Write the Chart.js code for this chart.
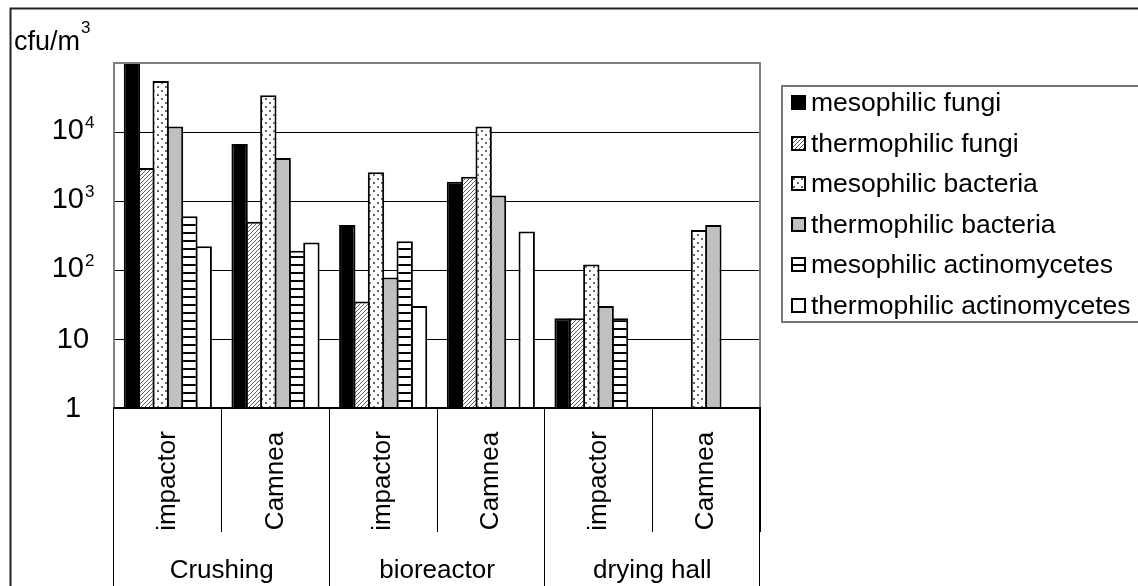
<!DOCTYPE html>
<html>
<head>
<meta charset="utf-8">
<title>Airborne microorganisms by site and sampler</title>
<script src="https://cdn.jsdelivr.net/npm/chart.js@4.4.1/dist/chart.umd.min.js"></script>
<style>
  html, body { margin: 0; padding: 0; background: #fff; }
  #wrap { width: 1138px; height: 586px; position: relative; }
  canvas { display: block; }
</style>
</head>
<body>
<div id="wrap"><canvas id="chart" width="1138" height="586"></canvas></div>
<script>
// Sampling sites (outer level) and samplers (inner level)
const groupLabels = ['Crushing', 'bioreactor', 'drying hall'];
const subCategories = ['impactor', 'Camnea', 'impactor', 'Camnea', 'impactor', 'Camnea'];

// Series names
const seriesNames = [
  'mesophilic fungi',
  'thermophilic fungi',
  'mesophilic bacteria',
  'thermophilic bacteria',
  'mesophilic actinomycetes',
  'thermophilic actinomycetes'
];

// Concentrations, cfu/m3 (null = not detected / not measured)
const mesophilicFungi           = [100000, 6700, 450, 1900, 20, null];
const thermophilicFungi         = [3000, 500, 35, 2250, 20, null];
const mesophilicBacteria        = [55000, 34000, 2600, 12000, 120, 380];
const thermophilicBacteria      = [12000, 4200, 78, 1200, 30, 450];
const mesophilicActinomycetes   = [600, 190, 260, null, 20, null];
const thermophilicActinomycetes = [220, 250, 30, 360, null, null];

// Log axis: decade grid values and their labels (base + superscript)
const yGridValues = [1, 10, 100, 1000, 10000, 100000];
const yTickValues = [1, 10, 100, 1000, 10000];
const yTickBases = ['1', '10', '10', '10', '10'];
const yTickExponents = ['', '', '2', '3', '4'];
const unitBase = 'cfu/m';
const unitExponent = '3';

const FONT = "'Liberation Sans', Arial, Helvetica, sans-serif";

const canvas = document.getElementById('chart');
const mainCtx = canvas.getContext('2d');

// Monochrome fill patterns
function tile(w, h, paint) {
  const c = document.createElement('canvas');
  c.width = w; c.height = h;
  const g = c.getContext('2d');
  g.fillStyle = '#fff';
  g.fillRect(0, 0, w, h);
  paint(g);
  return mainCtx.createPattern(c, 'repeat');
}

const hatchPattern = tile(4, 4, g => {
  g.strokeStyle = '#5a5a5a';
  g.lineWidth = 1;
  g.beginPath();
  g.moveTo(0, 4); g.lineTo(4, 0);
  g.moveTo(-1, 1); g.lineTo(1, -1);
  g.moveTo(3, 5); g.lineTo(5, 3);
  g.stroke();
});

const dotPattern = tile(8, 8, g => {
  g.fillStyle = '#666';
  g.fillRect(1, 2, 2, 2);
  g.fillRect(5, 6, 2, 2);
});

const stripePattern = tile(8, 8, g => {
  g.fillStyle = '#000';
  g.fillRect(0, 0, 8, 2);
});

const seriesFills = ['#000000', hatchPattern, dotPattern, '#c0c0c0', stripePattern, '#ffffff'];
const seriesData = [
  mesophilicFungi, thermophilicFungi, mesophilicBacteria,
  thermophilicBacteria, mesophilicActinomycetes, thermophilicActinomycetes
];

const datasets = seriesNames.map((name, i) => ({
  label: name,
  data: seriesData[i],
  backgroundColor: seriesFills[i],
  borderColor: '#000',
  borderWidth: 2,
  borderSkipped: 'start',
  categoryPercentage: 0.8,
  barPercentage: 1.14
}));

function alignPx(x, w) {
  return Math.round(x - w / 2) + w / 2;
}

const decorations = {
  id: 'decorations',
  beforeDraw(chart) {
    const ctx = chart.ctx;
    ctx.save();
    ctx.fillStyle = '#fff';
    ctx.fillRect(0, 0, chart.width, chart.height);
    ctx.restore();
  },
  afterDatasetsDraw(chart) {
    const ctx = chart.ctx;
    const a = chart.chartArea;
    ctx.save();
    // plot area frame
    ctx.strokeStyle = '#808080';
    ctx.lineWidth = 2;
    ctx.beginPath();
    ctx.moveTo(a.left, a.bottom);
    ctx.lineTo(a.left, a.top);
    ctx.lineTo(a.right, a.top);
    ctx.lineTo(a.right, a.bottom);
    ctx.stroke();
    // category axis line
    ctx.strokeStyle = '#000';
    ctx.beginPath();
    ctx.moveTo(a.left - 1, a.bottom);
    ctx.lineTo(a.right + 1, a.bottom);
    ctx.stroke();
    ctx.restore();
  },
  afterDraw(chart) {
    const ctx = chart.ctx;
    const a = chart.chartArea;
    const xs = chart.scales.x;
    const ys = chart.scales.y;
    const half = (xs.getPixelForValue(1) - xs.getPixelForValue(0)) / 2;
    ctx.save();
    ctx.fillStyle = '#000';

    // outer separators between sites
    ctx.strokeStyle = '#000';
    ctx.lineWidth = 1;
    for (let g = 0; g <= groupLabels.length; g++) {
      const idx = g * 2;
      const x = alignPx(xs.getPixelForValue(idx) - half, 1);
      ctx.beginPath();
      ctx.moveTo(x, a.bottom);
      ctx.lineTo(x, chart.height + 2);
      ctx.stroke();
    }

    // sampler labels (rotated)
    ctx.font = '26px ' + FONT;
    ctx.textAlign = 'center';
    ctx.textBaseline = 'middle';
    subCategories.forEach((lab, i) => {
      const x = xs.getPixelForValue(i);
      ctx.save();
      ctx.translate(x, 481);
      ctx.rotate(-Math.PI / 2);
      ctx.fillText(lab, 0, 0);
      ctx.restore();
    });

    // site labels
    ctx.textBaseline = 'alphabetic';
    groupLabels.forEach((lab, g) => {
      const x = (xs.getPixelForValue(2 * g) + xs.getPixelForValue(2 * g + 1)) / 2;
      ctx.fillText(lab, x, 578);
    });

    // value axis labels: 10 with superscript exponents
    ctx.textAlign = 'left';
    yTickValues.forEach((v, i) => {
      const y = ys.getPixelForValue(v);
      const base = yTickBases[i];
      const exp = yTickExponents[i];
      ctx.font = '29px ' + FONT;
      const wb = ctx.measureText(base).width;
      ctx.font = '17px ' + FONT;
      const we = exp ? ctx.measureText(exp).width + 1 : 0;
      const x0 = 73 - (wb + we) / 2;
      const baseline = y + (exp ? 7 : 9);
      ctx.font = '29px ' + FONT;
      ctx.fillText(base, x0, baseline);
      if (exp) {
        ctx.font = '17px ' + FONT;
        ctx.fillText(exp, x0 + wb + 1, baseline - 11);
      }
    });

    // unit label
    ctx.font = '27px ' + FONT;
    ctx.fillText(unitBase, 14, 50);
    const wu = ctx.measureText(unitBase).width;
    ctx.font = '17px ' + FONT;
    ctx.fillText(unitExponent, 14 + wu + 1, 33);

    // legend
    ctx.strokeStyle = '#777';
    ctx.lineWidth = 2;
    ctx.strokeRect(782, 86, 420, 236);
    ctx.font = '26.5px ' + FONT;
    chart.data.datasets.forEach((ds, i) => {
      const b = 111 + i * 40.5;
      const by = Math.round(b - 16);
      ctx.fillStyle = ds.backgroundColor;
      ctx.fillRect(791, by, 15, 15);
      ctx.strokeStyle = '#000';
      ctx.lineWidth = 2;
      ctx.strokeRect(792, by + 1, 13, 13);
      ctx.fillStyle = '#000';
      ctx.fillText(ds.label, 811, b);
    });

    // outer chart frame
    ctx.strokeStyle = '#222';
    ctx.lineWidth = 2;
    ctx.strokeRect(10.5, 8.5, 1300, 800);
    ctx.restore();
  }
};

new Chart(mainCtx, {
  type: 'bar',
  data: { labels: subCategories, datasets },
  options: {
    responsive: false,
    animation: false,
    devicePixelRatio: 1,
    layout: { padding: { left: 0, top: 63, right: 378, bottom: 0 } },
    plugins: {
      legend: { display: false },
      tooltip: { enabled: false },
      title: { display: false }
    },
    scales: {
      x: {
        type: 'category',
        offset: true,
        ticks: { display: false },
        border: { display: false },
        grid: {
          display: true,
          offset: true,
          drawOnChartArea: false,
          drawTicks: true,
          tickLength: 124,
          color: '#000',
          lineWidth: 1
        },
        afterFit(scale) { scale.height = 178; }
      },
      y: {
        type: 'logarithmic',
        min: 1,
        max: 100000,
        ticks: { display: false },
        border: { display: false },
        grid: {
          drawTicks: false,
          lineWidth: 1,
          color: ctx => {
            const v = ctx.tick ? ctx.tick.value : null;
            return (v === 1 || v === 100000) ? 'rgba(0,0,0,0)' : '#000';
          }
        },
        afterBuildTicks(scale) {
          scale.ticks = yGridValues.map(v => ({ value: v }));
        },
        afterFit(scale) { scale.width = 114; }
      }
    }
  },
  plugins: [decorations]
});
</script>
</body>
</html>
